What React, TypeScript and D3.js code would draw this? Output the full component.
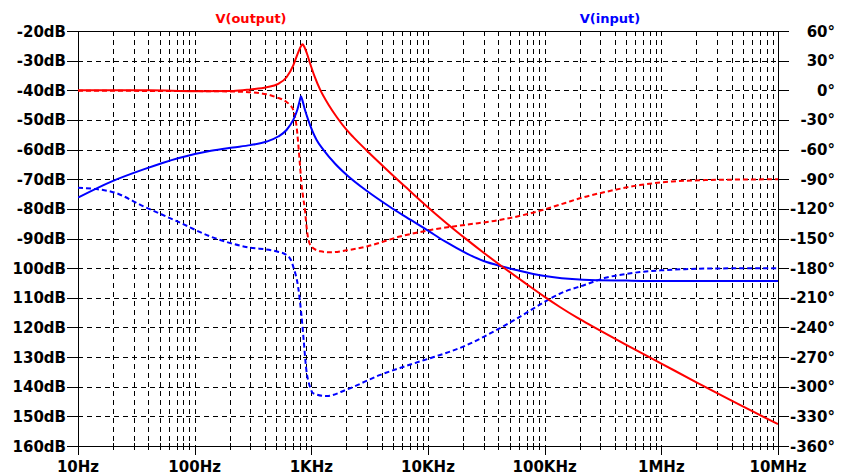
import React from "react";
import * as d3 from "d3";

// Frequency response of V(output) and V(input): magnitude in dB (solid, left axis)
// and phase in degrees (dashed, right axis). Points are [frequency Hz, value].
const outputMag: [number, number][] = [
  [10, -40], [20, -40], [41, -40], [100, -40.3], [214, -40.2], [300, -39.7], [414, -39],
  [520, -37.8], [613, -35.6], [700, -31.6], [760, -27.9], [810, -25.3], [841, -24.5],
  [870, -25.3], [917, -27.6], [973, -30.8], [1070, -35.5], [1190, -39.8], [1400, -44.8],
  [1650, -49], [2000, -53.3], [2290, -55.8], [2980, -60.3], [4700, -67.7], [6800, -73.5],
  [9700, -79], [14000, -84.4], [21400, -90.3], [30000, -94.8], [44000, -99.7],
  [70000, -105.4], [100000, -109.7], [135000, -113.1], [190000, -116.7], [262000, -119.8],
  [500000, -125.9], [1e6, -132.2], [2e6, -138.5], [4e6, -144.7], [1e7, -152.6],
];

const inputMag: [number, number][] = [
  [10, -76.2], [19.3, -70.8], [37, -66.6], [72, -62.9], [138, -60.4], [213, -59.3],
  [300, -58.5], [414, -57.3], [520, -55.6], [613, -53.4], [700, -50], [760, -46.5],
  [798, -43.3], [815, -42], [840, -43.5], [880, -46.5], [940, -50], [1110, -56.8],
  [1270, -60.1], [1600, -64.8], [2000, -68.5], [3000, -74], [4700, -79.3], [6500, -82.8],
  [9700, -87], [14000, -91], [21400, -95], [30000, -97.6], [44000, -99.5], [57000, -100.6],
  [97000, -102.6], [214000, -103.9], [500000, -104.2], [800000, -104.3], [1e7, -104.3],
];

const outputPhase: [number, number][] = [
  [10, -0.5], [100, -0.8], [250, -1.5], [414, -4], [500, -7], [600, -11], [656, -15],
  [700, -20], [748, -37], [797, -74], [820, -92], [850, -108], [880, -120], [910, -138],
  [940, -150], [1000, -158], [1200, -163], [1450, -164], [2000, -162], [3000, -158],
  [5740, -148], [11000, -141], [21400, -136], [40000, -131.5], [70000, -125.5],
  [100000, -120.5], [150000, -114], [200000, -109.3], [340000, -102.6], [655000, -95.9],
  [1.25e6, -92.3], [2.4e6, -90.9], [5e6, -90.3], [1e7, -90.1],
];

const inputPhase: [number, number][] = [
  [10, -98.6], [19.3, -102.6], [37, -117.8], [72, -133], [138, -148.2], [268, -158.3],
  [518, -163.4], [600, -166], [670, -172], [700, -178.6], [770, -198.8], [820, -226],
  [860, -253], [900, -280], [973, -300], [1040, -306.7], [1350, -309.5], [2000, -303],
  [3900, -288], [5740, -281], [8000, -275.5], [11200, -270], [15000, -265], [21400, -258],
  [30000, -249.5], [41000, -241], [57000, -231.5], [78500, -221.5], [107000, -212],
  [150000, -203.5], [214000, -197.5], [340000, -189.5], [500000, -185.8], [655000, -184],
  [1e6, -182.2], [1.6e6, -181], [2.4e6, -180.4], [1e7, -180],
];

const freqTicks = [10, 100, 1e3, 1e4, 1e5, 1e6, 1e7];
const freqLabels = ["10Hz", "100Hz", "1KHz", "10KHz", "100KHz", "1MHz", "10MHz"];
const dbTicks = [-20, -30, -40, -50, -60, -70, -80, -90, -100, -110, -120, -130, -140, -150, -160];
const dbLabels = [
  "-20dB", "-30dB", "-40dB", "-50dB", "-60dB", "-70dB", "-80dB", "-90dB",
  "100dB", "110dB", "120dB", "130dB", "140dB", "150dB", "160dB",
];
const phaseTicks = [60, 30, 0, -30, -60, -90, -120, -150, -180, -210, -240, -270, -300, -330, -360];
const phaseLabels = phaseTicks.map((p) => `${p}°`);

const W = 842;
const H = 476;
const L = 78;
const R = 778;
const T = 31;
const B = 446;

const RED = "#ff0000";
const BLUE = "#0000ff";
const FONT = "'DejaVu Sans', sans-serif";

export default function App() {
  const x = d3.scaleLog().domain([10, 1e7]).range([L, R]);
  const yDb = d3.scaleLinear().domain([-160, -20]).range([B, T]);
  const yPh = d3.scaleLinear().domain([-360, 60]).range([B, T]);

  const magLine = d3
    .line<[number, number]>()
    .x((d) => x(d[0]))
    .y((d) => yDb(d[1]))
    .curve(d3.curveMonotoneX);
  const phLine = d3
    .line<[number, number]>()
    .x((d) => x(d[0]))
    .y((d) => yPh(d[1]))
    .curve(d3.curveMonotoneX);

  const px = (v: number) => Math.round(v) + 0.5;

  // minor frequency positions 2..9 in each decade
  const minorFreqs: number[] = [];
  for (let dec = 10; dec < 1e7; dec *= 10) {
    for (let k = 2; k <= 9; k++) minorFreqs.push(dec * k);
  }
  const innerDecades = freqTicks.slice(1, -1);
  const vGrid = [...minorFreqs, ...innerDecades];

  return (
    <div style={{ position: "fixed", left: 0, top: 0, background: "#fff" }}>
      <svg width={W} height={H} style={{ display: "block", background: "#fff" }}>
        <defs>
          <clipPath id="plotArea">
            <rect x={L} y={T} width={R - L} height={B - T} />
          </clipPath>
        </defs>

        {/* grid */}
        <g stroke="#000" strokeWidth={1} strokeDasharray="5,4" fill="none">
          {vGrid.map((f) => (
            <line key={`v${f}`} x1={px(x(f))} x2={px(x(f))} y1={T} y2={B} />
          ))}
          {dbTicks.slice(1, -1).map((v) => (
            <line key={`h${v}`} x1={L} x2={R} y1={px(yDb(v))} y2={px(yDb(v))} />
          ))}
        </g>

        {/* frame and ticks */}
        <g stroke="#000" strokeWidth={1} fill="none">
          <rect x={px(L)} y={px(T)} width={Math.round(R - L)} height={Math.round(B - T)} />
          {dbTicks.map((v) => (
            <line key={`lt${v}`} x1={L - 11} x2={L} y1={px(yDb(v))} y2={px(yDb(v))} />
          ))}
          {phaseTicks.map((v) => (
            <line key={`rt${v}`} x1={R} x2={R + 11} y1={px(yPh(v))} y2={px(yPh(v))} />
          ))}
          {freqTicks.map((f) => (
            <line key={`bt${f}`} x1={px(x(f))} x2={px(x(f))} y1={B} y2={B + 9} />
          ))}
          {minorFreqs.map((f) => (
            <line key={`bm${f}`} x1={px(x(f))} x2={px(x(f))} y1={B - 3} y2={B + 4} />
          ))}
        </g>

        {/* traces */}
        <g clipPath="url(#plotArea)" fill="none" strokeWidth={2}>
          <path d={phLine(outputPhase) ?? ""} stroke={RED} strokeDasharray="5,3" />
          <path d={phLine(inputPhase) ?? ""} stroke={BLUE} strokeDasharray="5,3" />
          <path d={magLine(inputMag) ?? ""} stroke={BLUE} />
          <path d={magLine(outputMag) ?? ""} stroke={RED} />
        </g>

        {/* axis labels */}
        <g fontFamily={FONT} fontWeight="bold" fontSize={15} fill="#000">
          {dbTicks.map((v, i) => (
            <text key={`ll${v}`} x={66} y={yDb(v) + 5.5} textAnchor="end">
              {dbLabels[i]}
            </text>
          ))}
          {phaseTicks.map((v, i) => (
            <text key={`rl${v}`} x={835} y={yPh(v) + 5.5} textAnchor="end">
              {phaseLabels[i]}
            </text>
          ))}
          {freqTicks.map((f, i) => (
            <text key={`xl${f}`} x={x(f)} y={472} textAnchor="middle">
              {freqLabels[i]}
            </text>
          ))}
        </g>

        {/* trace titles */}
        <g fontFamily={FONT} fontWeight="bold" fontSize={13}>
          <text x={251} y={23} textAnchor="middle" fill={RED}>V(output)</text>
          <text x={610} y={23} textAnchor="middle" fill={BLUE}>V(input)</text>
        </g>
      </svg>
    </div>
  );
}
